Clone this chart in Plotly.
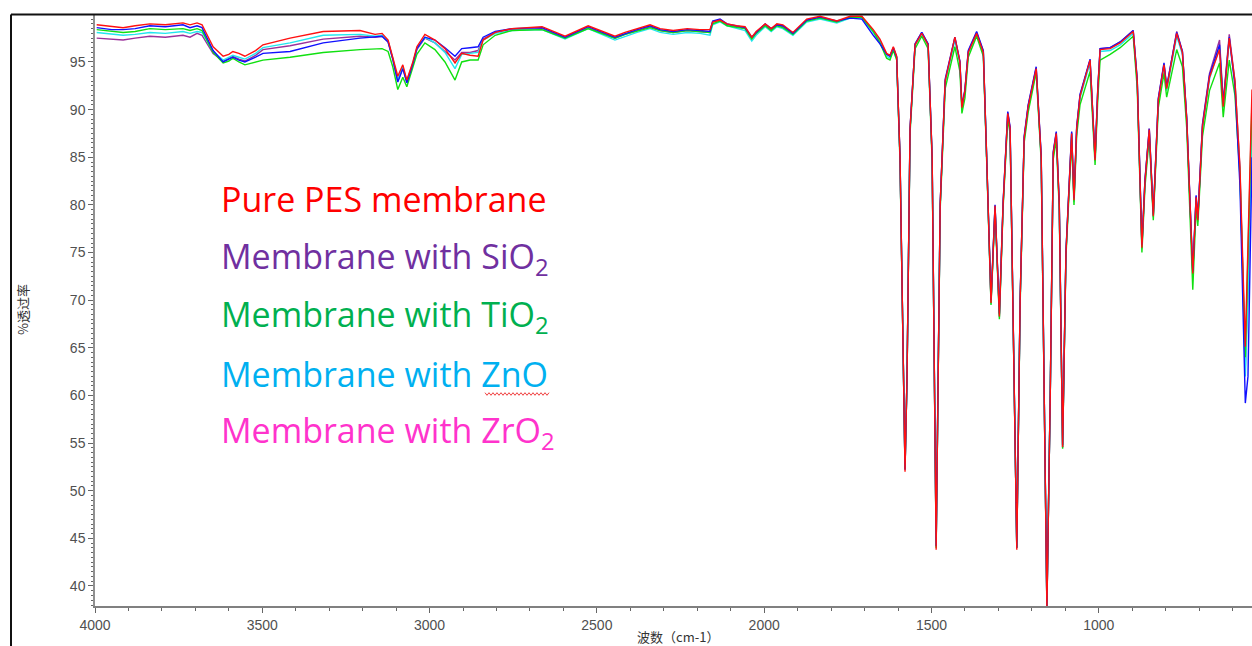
import plotly.graph_objects as go

# ---------------- data ----------------
WN = [3995, 3950, 3916, 3880, 3836, 3790, 3737, 3716, 3695, 3680,
      3647, 3617, 3600, 3588, 3570, 3552, 3520, 3498, 3417, 3318,
      3208, 3163, 3142, 3124, 3110, 3095, 3080, 3068, 3050, 3038,
      3014, 2984, 2954, 2924, 2904, 2879, 2855, 2840, 2804, 2754,
      2664, 2595, 2526, 2446, 2416, 2380, 2341, 2311, 2272, 2230,
      2192, 2162, 2154, 2132, 2111, 2082, 2057, 2037, 2024, 1997,
      1979, 1962, 1944, 1914, 1873, 1833, 1783, 1743, 1708, 1674,
      1654, 1634, 1624, 1614, 1604, 1594, 1585, 1579, 1573, 1564,
      1549, 1529, 1510, 1498, 1486, 1474, 1459, 1430, 1415, 1409,
      1400, 1390, 1365, 1345, 1335, 1322, 1310, 1297, 1286, 1272,
      1265, 1256, 1245, 1235, 1223, 1211, 1187, 1172, 1160, 1155,
      1145, 1136, 1127, 1118, 1108, 1098, 1081, 1074, 1066, 1056,
      1026, 1018, 1011, 1003, 996, 966, 936, 897, 885, 871,
      862, 849, 837, 822, 805, 797, 767, 750, 737, 719,
      709, 704, 690, 669, 639, 628, 610, 593, 578, 562,
      554, 542]

PURE_PES = [98.9, 98.7, 98.6, 98.8, 99.0, 98.9, 99.1, 98.9, 99.1, 98.9,
            96.6, 95.6, 95.8, 96.1, 95.9, 95.6, 96.2, 96.8, 97.5, 98.2,
            98.3, 97.9, 98.0, 97.3, 95.5, 93.5, 94.7, 93.1, 95.0, 96.6,
            97.9, 97.3, 96.4, 94.9, 95.9, 95.7, 95.6, 97.3, 98.1, 98.5,
            98.7, 97.7, 98.8, 97.7, 98.1, 98.5, 98.9, 98.5, 98.3, 98.5,
            98.4, 98.4, 99.2, 99.4, 99.0, 98.8, 98.7, 97.6, 98.2, 99.0,
            98.5, 99.0, 98.9, 98.1, 99.5, 99.8, 99.3, 99.8, 99.8, 98.4,
            97.4, 95.9, 95.7, 96.6, 95.6, 85.0, 62.0, 52.0, 62.0, 88.0,
            96.8, 98.0, 96.8, 85.0, 43.8, 80.0, 93.0, 97.6, 95.0, 90.2,
            92.0, 96.0, 98.0, 96.0, 85.0, 69.7, 79.9, 68.3, 80.0, 89.6,
            88.0, 70.0, 43.8, 70.0, 87.0, 90.3, 94.3, 85.0, 50.0, 37.5,
            60.0, 85.4, 87.5, 80.0, 54.6, 75.0, 87.5, 80.5, 88.0, 91.4,
            95.2, 90.0, 84.7, 92.0, 96.3, 96.4, 97.0, 98.2, 93.0, 75.5,
            82.4, 87.9, 78.8, 91.0, 94.7, 92.2, 98.0, 96.0, 88.9, 72.8,
            80.8, 78.4, 88.2, 93.4, 96.3, 90.3, 97.5, 93.0, 84.0, 65.1,
            75.0, 92.1]

WITH_SIO2 = [97.5, 97.4, 97.3, 97.5, 97.7, 97.6, 97.8, 97.6, 98.0, 97.8,
             95.9, 95.1, 95.4, 95.6, 95.3, 95.1, 95.7, 96.3, 96.7, 97.4,
             97.7, 97.6, 97.7, 97.1, 95.3, 93.0, 94.4, 92.9, 94.8, 96.3,
             97.5, 97.0, 96.1, 95.2, 96.0, 96.0, 96.2, 97.4, 98.1, 98.4,
             98.5, 97.5, 98.6, 97.5, 97.9, 98.3, 98.7, 98.3, 98.1, 98.3,
             98.2, 98.1, 99.2, 99.4, 98.9, 98.7, 98.5, 97.5, 98.1, 98.9,
             98.4, 98.9, 98.7, 98.0, 99.4, 99.7, 99.2, 99.7, 99.7, 98.2,
             97.2, 95.8, 95.6, 96.5, 95.5, 85.0, 62.0, 52.3, 62.0, 88.0,
             96.9, 98.1, 96.9, 85.0, 44.2, 80.0, 93.0, 97.5, 95.0, 90.3,
             92.0, 96.1, 98.1, 96.1, 85.0, 69.8, 79.9, 68.5, 80.0, 89.7,
             88.0, 70.0, 44.1, 70.0, 87.0, 90.4, 94.4, 85.0, 50.0, 37.8,
             60.0, 85.5, 87.6, 80.0, 54.5, 75.0, 87.6, 80.6, 88.1, 91.5,
             95.2, 90.0, 84.8, 92.0, 96.4, 96.5, 97.1, 98.3, 93.0, 75.6,
             82.5, 88.0, 78.9, 91.1, 94.8, 92.3, 98.2, 96.1, 89.0, 72.9,
             80.9, 78.5, 88.5, 93.8, 97.3, 90.8, 97.9, 93.0, 83.8, 63.0,
             72.0, 90.0]

WITH_TIO2 = [98.4, 98.2, 98.1, 98.2, 98.5, 98.4, 98.5, 98.3, 98.5, 98.3,
             96.0, 94.9, 95.1, 95.4, 95.0, 94.7, 95.0, 95.2, 95.5, 96.0,
             96.3, 96.4, 96.4, 96.1, 94.5, 92.1, 93.4, 92.4, 94.3, 95.8,
             97.0, 96.3, 95.0, 93.1, 95.0, 95.2, 95.2, 96.8, 97.8, 98.3,
             98.4, 97.5, 98.5, 97.5, 97.9, 98.2, 98.6, 98.3, 98.1, 98.3,
             98.2, 98.1, 99.0, 99.3, 98.8, 98.6, 98.5, 97.4, 98.0, 98.8,
             98.3, 98.8, 98.6, 97.9, 99.3, 99.6, 99.2, 99.7, 99.7, 98.2,
             97.0, 95.4, 95.2, 96.2, 95.2, 84.5, 62.0, 52.3, 62.0, 87.5,
             96.4, 97.7, 96.4, 84.5, 44.0, 79.5, 92.2, 96.6, 94.0, 89.6,
             91.2, 95.5, 97.7, 95.6, 84.6, 69.5, 79.5, 68.0, 79.6, 89.0,
             87.5, 69.5, 44.0, 69.5, 86.5, 89.7, 93.9, 84.5, 50.0, 37.8,
             60.0, 84.8, 86.8, 79.5, 54.4, 74.6, 86.8, 80.0, 87.3, 90.5,
             94.0, 89.0, 84.2, 91.0, 95.2, 95.8, 96.5, 97.7, 92.2, 75.0,
             81.8, 87.2, 78.4, 90.2, 93.8, 91.3, 96.3, 94.5, 88.0, 71.1,
             79.8, 77.8, 87.2, 92.0, 94.9, 89.2, 95.2, 91.5, 83.0, 64.0,
             74.0, 91.0]

WITH_ZNO = [98.1, 97.9, 97.8, 97.9, 98.1, 98.0, 98.2, 98.0, 98.2, 98.1,
            96.1, 95.2, 95.5, 95.7, 95.5, 95.3, 95.9, 96.5, 97.0, 97.8,
            97.9, 97.7, 97.8, 97.2, 95.4, 93.1, 94.5, 93.0, 94.9, 96.4,
            97.6, 97.0, 96.0, 94.3, 95.8, 95.9, 96.0, 97.3, 98.0, 98.3,
            98.4, 97.4, 98.5, 97.3, 97.7, 98.1, 98.5, 98.1, 97.9, 98.1,
            98.0, 97.8, 98.9, 99.2, 98.8, 98.5, 98.3, 97.2, 97.8, 98.7,
            98.2, 98.7, 98.5, 97.8, 99.2, 99.5, 99.1, 99.6, 99.6, 98.1,
            97.1, 95.6, 95.4, 96.4, 95.4, 84.8, 62.0, 52.2, 62.0, 87.8,
            96.7, 97.9, 96.7, 84.8, 44.1, 79.8, 92.8, 97.3, 94.8, 90.1,
            91.8, 95.9, 97.9, 95.9, 84.8, 69.6, 79.8, 68.2, 79.9, 89.4,
            87.8, 69.8, 44.0, 69.8, 86.8, 90.1, 94.1, 84.8, 50.0, 37.8,
            60.0, 85.2, 87.3, 79.8, 54.6, 74.9, 87.3, 80.3, 87.8, 91.2,
            94.9, 89.8, 84.6, 91.8, 96.1, 96.2, 96.8, 98.0, 92.8, 75.4,
            82.2, 87.7, 78.7, 90.8, 94.5, 92.0, 97.7, 95.8, 88.7, 72.6,
            80.6, 78.2, 88.0, 93.2, 96.6, 90.2, 97.3, 92.8, 83.5, 62.0,
            70.0, 88.0]

WITH_ZRO2 = [98.6, 98.4, 98.4, 98.5, 98.8, 98.7, 98.9, 98.6, 98.8, 98.6,
             96.2, 95.0, 95.3, 95.5, 95.2, 95.0, 95.5, 95.9, 96.1, 97.0,
             97.5, 97.6, 97.7, 97.1, 95.3, 92.9, 94.3, 92.8, 94.8, 96.4,
             97.6, 97.3, 96.5, 95.6, 96.4, 96.5, 96.6, 97.6, 98.2, 98.5,
             98.6, 97.6, 98.7, 97.6, 98.0, 98.4, 98.8, 98.4, 98.2, 98.4,
             98.3, 98.2, 99.3, 99.5, 99.0, 98.8, 98.6, 97.6, 98.1, 99.0,
             98.5, 98.9, 98.8, 98.0, 99.4, 99.7, 99.3, 99.6, 99.5, 97.8,
             96.9, 95.8, 95.6, 96.5, 95.5, 85.0, 62.0, 52.2, 62.0, 88.0,
             96.9, 98.1, 96.9, 85.0, 44.2, 80.0, 93.2, 97.6, 95.1, 90.4,
             92.1, 96.2, 98.2, 96.2, 85.0, 70.0, 80.0, 68.6, 80.2, 89.8,
             88.2, 70.0, 44.0, 70.0, 87.2, 90.5, 94.5, 85.2, 50.0, 37.8,
             60.0, 85.6, 87.7, 80.2, 54.8, 75.2, 87.7, 80.7, 88.2, 91.6,
             95.3, 90.1, 84.9, 92.2, 96.4, 96.5, 97.1, 98.3, 93.2, 75.8,
             82.6, 88.0, 79.0, 91.2, 94.9, 92.4, 98.1, 96.1, 89.1, 73.0,
             81.0, 78.6, 88.4, 93.6, 96.8, 90.6, 97.6, 92.5, 82.0, 59.2,
             62.0, 85.0]

LEGEND_LABELS = ["Pure PES membrane", "Membrane with SiO<sub>2</sub>",
                 "Membrane with TiO<sub>2</sub>", "Membrane with ZnO",
                 "Membrane with ZrO<sub>2</sub>"]
X_TITLE = "波数（cm-1）"
Y_TITLE = "%透过率"

for s in (PURE_PES, WITH_SIO2, WITH_TIO2, WITH_ZNO, WITH_ZRO2):
    assert len(s) == len(WN)

# ---------------- layout helpers ----------------
W, H = 1252, 646
ML, MR, MT, MB = 95, 0, 15, 40


def fx(x):
    return (x - ML) / (W - ML - MR)


def fy(y):
    return (H - MB - y) / (H - MT - MB)


fig = go.Figure()
# drawing order: purple, cyan, green, blue, red on top
series = [
    (WITH_SIO2, "#9B309B"),
    (WITH_ZNO, "#22E6EE"),
    (WITH_TIO2, "#10E010"),
    (WITH_ZRO2, "#1010FF"),
    (PURE_PES, "#FF1010"),
]
for vals, col in series:
    fig.add_trace(go.Scatter(x=WN, y=vals, mode="lines",
                             line=dict(color=col, width=1.4),
                             showlegend=False, hoverinfo="skip"))

tickfont = dict(family="Liberation Sans, Arial, sans-serif", size=14, color="#505050")
fig.update_xaxes(range=[4000, 542], autorange=False, tick0=0, dtick=500,
                 ticks="outside", ticklen=5, tickwidth=1, tickcolor="#666",
                 showline=True, linecolor="#808080", linewidth=2,
                 showgrid=False, zeroline=False, tickfont=tickfont,
                 minor=dict(dtick=100, ticks="outside", ticklen=3,
                            tickcolor="#666", showgrid=False))
fig.update_yaxes(range=[37.9, 99.93], autorange=False, tick0=0, dtick=5,
                 ticks="outside", ticklen=5, tickwidth=1, tickcolor="#666",
                 showline=True, linecolor="#909090", linewidth=1.5,
                 showgrid=False, zeroline=False, tickfont=tickfont,
                 minor=dict(dtick=0.5, ticks="outside", ticklen=2,
                            tickcolor="#666", showgrid=False))

annotations = []
# axis titles
annotations.append(dict(text=X_TITLE, x=fx(678), y=fy(636), xref="paper", yref="paper",
                        xanchor="center", yanchor="middle", showarrow=False,
                        font=dict(family="Noto Sans CJK SC", size=13, color="#333")))
annotations.append(dict(text=Y_TITLE, x=fx(22), y=fy(310), xref="paper", yref="paper",
                        xanchor="center", yanchor="middle", showarrow=False, textangle=-90,
                        font=dict(family="Noto Sans CJK SC", size=13, color="#333")))

# text legend
leg_colors = ["#FF0000", "#7030A0", "#00B050", "#00B0F0", "#FF33CC"]
leg_y = [198.5, 257.5, 315.5, 374, 432]
for lab, col, yy in zip(LEGEND_LABELS, leg_colors, leg_y):
    annotations.append(dict(text=lab, x=fx(219), y=fy(yy), xref="paper", yref="paper",
                            xanchor="left", yanchor="middle", showarrow=False,
                            font=dict(family="Open Sans", size=34, color=col)))

shapes = []
# outer frame lines (left and top)
shapes.append(dict(type="line", xref="paper", yref="paper",
                   x0=fx(11), x1=fx(11), y0=fy(646), y1=fy(14.5),
                   line=dict(color="#111", width=2)))
shapes.append(dict(type="line", xref="paper", yref="paper",
                   x0=fx(11), x1=fx(1252), y0=fy(14.5), y1=fy(14.5),
                   line=dict(color="#111", width=2)))
# spell-check wavy underline under "ZnO"
pts = []
xw = 485.0
k = 0
while xw <= 550:
    pts.append((fx(xw), fy(394 + (1.3 if k % 2 else -1.3))))
    xw += 2.0
    k += 1
path = "M " + " L ".join(f"{a:.5f},{b:.5f}" for a, b in pts)
shapes.append(dict(type="path", xref="paper", yref="paper", path=path,
                   line=dict(color="#F04040", width=1)))

fig.update_layout(width=W, height=H, autosize=False,
                  margin=dict(l=ML, r=MR, t=MT, b=MB, pad=0),
                  paper_bgcolor="white", plot_bgcolor="white",
                  showlegend=False, annotations=annotations, shapes=shapes)

fig.write_html("out.html")
